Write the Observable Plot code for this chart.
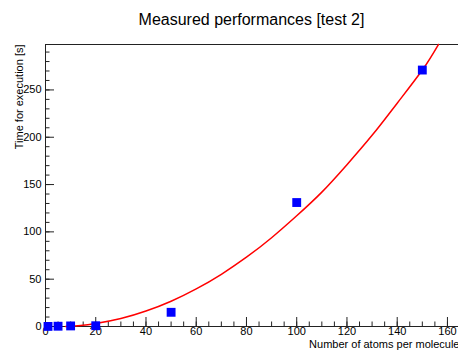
<!DOCTYPE html>
<html>
<head>
<meta charset="utf-8">
<script src="https://cdn.jsdelivr.net/npm/d3@7"></script>
<script src="https://cdn.jsdelivr.net/npm/@observablehq/plot@0.6"></script>
<style>
  html, body { margin: 0; padding: 0; background: #fff; }
  #title { width: 458px; height: 30px; box-sizing: border-box; padding-left: 45px; padding-top: 11px;
           text-align: center; font: 16px "Liberation Sans", Arial, sans-serif; line-height: 18px; color: #000; }
  #chart svg { display: block; }
</style>
</head>
<body>
<div id="title">Measured performances [test 2]</div>
<div id="chart"></div>
<script>
// Measured points
const atoms = [1, 5, 10, 20, 50, 100, 150];
const times = [0.1, 0.3, 0.6, 0.8, 15, 131, 271];
// Fit curve
const fitX = [8, 14, 20, 30, 40, 50, 60, 70, 80, 90, 100, 110, 120, 130, 140, 150, 156.4];
const fitY = [0.1, 1.1, 3.1, 8.4, 16.3, 26.7, 39.7, 55.2, 73.2, 93.8, 117, 142, 171, 202, 236, 271, 298];
const xMajor = [0, 20, 40, 60, 80, 100, 120, 140, 160];
const xMinor = d3.range(0, 165, 5);
const yMajor = [0, 50, 100, 150, 200, 250];
const yMinor = d3.range(0, 300, 10);
const xDomain = [0, 164.4];
const yDomain = [0, 298];

const points = atoms.map((a, i) => ({atoms: a, time: times[i]}));
const fit = fitX.map((x, i) => ({x, y: fitY[i]}));

const font = "Liberation Sans, Arial, sans-serif";
const axisCol = "#222";

const chart = Plot.plot({
  width: 458,
  height: 322,
  marginTop: 14,
  marginBottom: 26,
  marginLeft: 45,
  marginRight: 0,
  style: {fontFamily: font, fontSize: "11px", color: "#000", background: "#fff", overflow: "visible"},
  x: {domain: xDomain},
  y: {domain: yDomain},
  marks: [
    // frame lines: left, bottom, top
    Plot.ruleX([xDomain[0]], {stroke: axisCol}),
    Plot.ruleY([yDomain[0]], {stroke: axisCol}),
    Plot.ruleY([yDomain[1]], {stroke: axisCol}),
    // x ticks (inside)
    Plot.axisX(xMajor, {anchor: "bottom", tickSize: -9, fill: "none", label: null, stroke: axisCol}),
    Plot.axisX(xMinor, {anchor: "bottom", tickSize: -4.5, fill: "none", label: null, stroke: axisCol}),
    Plot.axisX(xMajor, {anchor: "bottom", tickSize: 0, tickPadding: 1, label: null, fontSize: 11}),
    // y ticks (inside)
    Plot.axisY(yMajor, {anchor: "left", tickSize: -9, fill: "none", label: null, stroke: axisCol}),
    Plot.axisY(yMinor, {anchor: "left", tickSize: -4.5, fill: "none", label: null, stroke: axisCol}),
    Plot.axisY(yMajor, {anchor: "left", tickSize: 0, tickPadding: 4, label: null, fontSize: 11}),
    // axis titles
    Plot.text(["Number of atoms per molecule"], {frameAnchor: "bottom-right", textAnchor: "end", dx: 1, dy: 21, fontSize: 11, fill: "#000"}),
    Plot.text(["Time for execution [s]"], {frameAnchor: "top-left", rotate: -90, textAnchor: "end", dx: -30, dy: 0, fontSize: 11, fill: "#000"}),
    // fit curve
    Plot.line(fit, {x: "x", y: "y", stroke: "#ff0000", strokeWidth: 1.5, curve: "natural"}),
    // data points
    Plot.dot(points, {x: "atoms", y: "time", symbol: "square", r: 5, fill: "#0000ff", stroke: "none"})
  ]
});
document.getElementById("chart").appendChild(chart);
</script>
</body>
</html>
